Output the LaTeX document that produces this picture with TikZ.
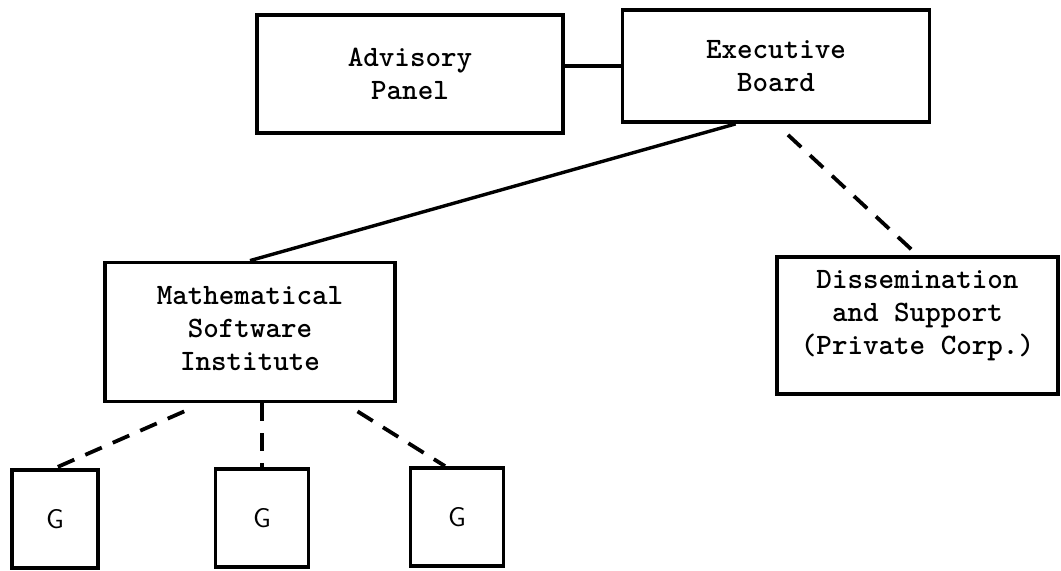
\documentclass[tikz,border=0pt]{standalone}
\usetikzlibrary{calc}
\begin{document}
\begin{tikzpicture}[x=0.5pt,y=-0.5pt,
	unitbox/.style={draw,line width=1.9pt,align=center,inner sep=0pt,font=\fontsize{14.8}{16.5}\selectfont\ttfamily\bfseries},
	groupbox/.style={draw,line width=1.9pt,inner sep=0pt,minimum height=49pt,font=\fontsize{13.5}{15}\selectfont\sffamily},
	link/.style={line width=1.7pt},
	dashlink/.style={line width=1.9pt,dash pattern=on 9pt off 6pt}]
		\useasboundingbox (0,0) rectangle (1061,570);
		\node [unitbox,minimum width=153pt,minimum height=59pt] at (410,74) (adv) {Advisory\\Panel};
		\node [unitbox,minimum width=153.5pt,minimum height=56pt] at (776,66) (exec) {Executive\\Board};
		\node [unitbox,minimum width=145pt,minimum height=69.5pt] at (250,332) (msi) {Mathematical\\Software\\Institute\rule[-3.5pt]{0pt}{3.5pt}};
		\node [unitbox,minimum width=140.5pt,minimum height=68.5pt] at (917.5,325.5) (dis) {Dissemination\\and Support\\(Private Corp.)\rule[-13pt]{0pt}{13pt}};
		\node [groupbox,minimum width=43pt] at (55,519) (g1) {G};
		\node [groupbox,minimum width=46.5pt] at (262,518) (g2) {G};
		\node [groupbox,minimum width=46.5pt] at (457,517) (g3) {G};
		\draw [link] (exec.west) -- (exec.west -| adv.east);
		\draw [link] ($(exec.south west)!0.37!(exec.south east)$) -- (msi.north);
		\draw [dashlink] ($(exec.south)+(12,11)$) -- (dis.north);
		\draw [dashlink] ($(msi.south west)!0.276!(msi.south east)+(0,8)$) -- (g1.north);
		\draw [dashlink] (msi.south -| g2.north) -- (g2.north);
		\draw [dashlink] ($(msi.south west)!0.866!(msi.south east)+(0,8)$) -- ($(g3.north)+(-12,0)$);
	\end{tikzpicture}
\end{document}
